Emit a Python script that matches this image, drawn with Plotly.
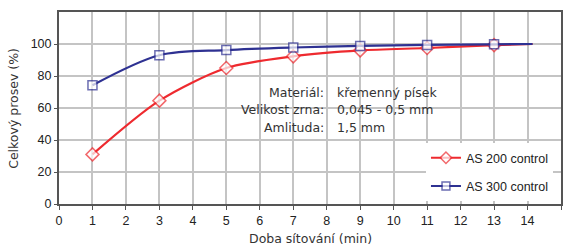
import plotly.graph_objects as go

x_as200 = [1, 3, 5, 7, 9, 11, 13, 14.15]
y_as200 = [31, 64.6, 85, 92.3, 96, 97.5, 99.3, 100]
x_as300 = [1, 3, 5, 7, 9, 11, 13, 14.15]
y_as300 = [74.2, 93, 96.2, 97.8, 98.8, 99.4, 99.8, 100]
marker_sizes = [9, 9, 9, 9, 9, 9, 9, 0]

x_ticks = list(range(0, 16))
y_ticks = [0, 20, 40, 60, 80, 100]

info_labels = ["Materiál:", "Velikost zrna:", "Amlituda:"]
info_values = ["křemenný písek", "0,045 - 0,5 mm", "1,5 mm"]
info_y = [69.4, 58.8, 48.1]

RED = "#ee2a2f"
BLUE = "#2e3192"
NARROW = "Liberation Sans Narrow, Arial Narrow, Liberation Sans, sans-serif"

fig = go.Figure()
fig.add_trace(go.Scatter(
    x=x_as200, y=y_as200, mode="lines+markers", name="AS 200 control", legendgroup="a",
    line=dict(color=RED, width=2.2, shape="spline", smoothing=0.8),
    marker=dict(symbol="diamond", size=[s + 1 if s else 0 for s in marker_sizes], color="white",
                line=dict(color=RED, width=1.5)),
))
fig.add_trace(go.Scatter(
    x=x_as300, y=y_as300, mode="lines+markers", name="AS 300 control", legendgroup="b",
    line=dict(color=BLUE, width=2.2, shape="spline", smoothing=0.9),
    marker=dict(symbol="square", size=marker_sizes, color="white",
                line=dict(color=BLUE, width=1.5)),
))

for lab, val, yy in zip(info_labels, info_values, info_y):
    fig.add_annotation(x=0.532, xref="paper", y=yy, yref="y", text=lab, showarrow=False,
                       xanchor="right", yanchor="middle",
                       font=dict(family="DejaVu Sans", size=12.5, color="#333"))
    fig.add_annotation(x=0.55, xref="paper", y=yy, yref="y", text=val, showarrow=False,
                       xanchor="left", yanchor="middle",
                       font=dict(family="DejaVu Sans", size=12.5, color="#333"))

fig.add_annotation(x=0.5, xref="paper", y=-0.18, yref="paper", text="Doba sítování (min)",
                   showarrow=False, xanchor="center", yanchor="middle",
                   font=dict(family="DejaVu Sans", size=12.5, color="#333"))
fig.add_annotation(x=-0.092, xref="paper", y=0.5, yref="paper", text="Celkový prosev (%)",
                   showarrow=False, xanchor="center", yanchor="middle", textangle=-90,
                   font=dict(family="DejaVu Sans", size=12.5, color="#333"))

fig.update_layout(
    width=565, height=246,
    margin=dict(l=59, r=4, t=12, b=42, autoexpand=False),
    paper_bgcolor="white", plot_bgcolor="white",
    showlegend=True,
    legend=dict(x=0.731, y=0.317, xanchor="left", yanchor="top",
                bgcolor="white", borderwidth=0,
                font=dict(family=NARROW, size=12.5, color="#222"),
                traceorder="grouped", tracegroupgap=9, itemwidth=30),
    xaxis=dict(range=[0, 15], tickvals=x_ticks, ticktext=[str(v) for v in x_ticks],
               showgrid=True, gridcolor="#c4c4c4", gridwidth=1.5,
               showline=True, linecolor="#555", linewidth=2, mirror=True,
               ticks="outside", ticklen=4, tickcolor="#555", automargin=False,
               tickfont=dict(family=NARROW, size=12.5, color="#222"),
               zeroline=False),
    yaxis=dict(range=[0, 120], tickvals=y_ticks, ticktext=[str(v) for v in y_ticks],
               showgrid=True, gridcolor="#c4c4c4", gridwidth=1.5,
               showline=True, linecolor="#555", linewidth=2, mirror=True,
               ticks="outside", ticklen=3, tickcolor="#555", automargin=False,
               tickfont=dict(family=NARROW, size=12.5, color="#222"),
               zeroline=False),
)

fig.write_html("out.html", config={"displayModeBar": False},
               post_script="document.body.style.margin='0';document.body.style.overflow='hidden';")
